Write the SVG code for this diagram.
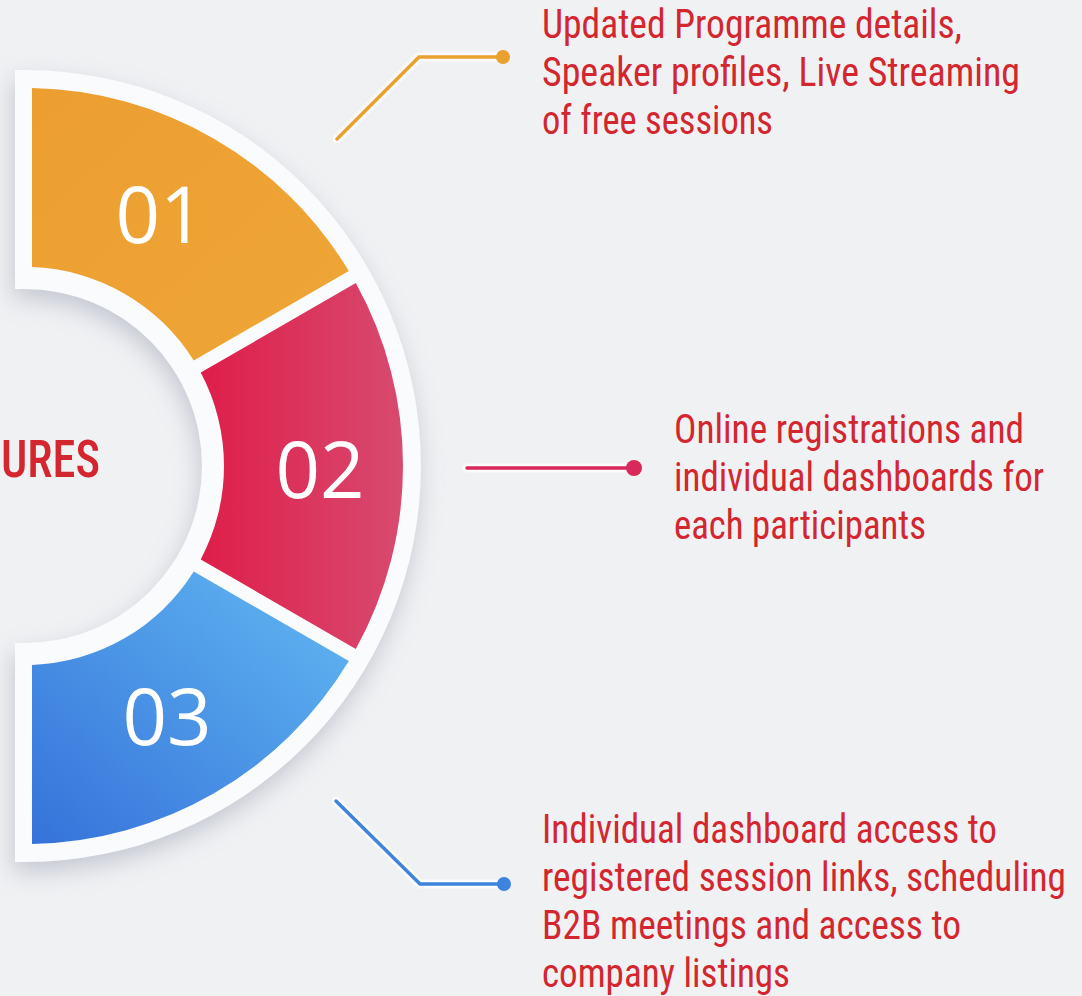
<svg xmlns="http://www.w3.org/2000/svg" width="1082" height="996" viewBox="0 0 1082 996">
<defs>
<style>
.lbl{font-family:"Liberation Sans Narrow","Roboto Condensed","Liberation Sans",Arial,sans-serif;font-size:40px;fill:#D3262F;}
.num{font-family:"Open Sans","Noto Sans",sans-serif;font-weight:400;font-size:78px;fill:#FFFFFF;text-anchor:middle;}
.conn{fill:none;stroke-width:3.5;stroke-linecap:round;stroke-linejoin:round;}
.halo{fill:none;stroke:#FFFFFF;stroke-opacity:0.7;stroke-width:9;stroke-linecap:round;stroke-linejoin:round;}
</style>
<linearGradient id="gOrange" x1="0" y1="0" x2="1" y2="1">
<stop offset="0" stop-color="#EC9F30"/>
<stop offset="1" stop-color="#EFA537"/>
</linearGradient>
<linearGradient id="gRed" x1="0" y1="0" x2="1" y2="0">
<stop offset="0" stop-color="#DE1E4A"/>
<stop offset="1" stop-color="#D84A6F"/>
</linearGradient>
<linearGradient id="gBlue" x1="0" y1="1" x2="1" y2="0">
<stop offset="0" stop-color="#3572DA"/>
<stop offset="1" stop-color="#62B9F2"/>
</linearGradient>
<filter id="shadow" x="-20%" y="-20%" width="140%" height="140%">
<feDropShadow dx="-2" dy="10" stdDeviation="12" flood-color="#8E94A6" flood-opacity="0.45"/>
</filter>
</defs>
<rect width="1082" height="996" fill="#F0F1F3"/>

<g id="ring-backing">
<path d="M 15 70 L 25 70 A 396 396 0 0 1 25 862 L 15 862 L 15 643 L 25 643 A 177 177 0 0 0 25 289 L 15 289 Z" fill="#FAFBFC" filter="url(#shadow)"/>
</g>

<g id="node-01">
<path d="M 31.99 88.06 A 378 378 0 0 1 348.79 270.98 L 193.73 360.50 A 199 199 0 0 0 32.0 267.12 Z" fill="url(#gOrange)"/>
<text class="num" x="160" y="243">01</text>
</g>

<g id="node-02">
<path d="M 355.80 283.09 A 378 378 0 0 1 355.80 648.91 L 200.73 559.38 A 199 199 0 0 0 200.73 372.62 Z" fill="url(#gRed)"/>
<text class="num" x="320" y="498">02</text>
</g>

<g id="node-03">
<path d="M 348.79 661.02 A 378 378 0 0 1 31.99 843.94 L 32.0 664.88 A 199 199 0 0 0 193.73 571.50 Z" fill="url(#gBlue)"/>
<text class="num" x="167" y="745">03</text>
</g>

<g id="title">
<text class="lbl" x="1" y="477" textLength="99" lengthAdjust="spacingAndGlyphs" style="font-size:52px;font-weight:500">URES</text>
</g>

<g id="connectors">
<path class="halo" d="M 337 139 L 419 57 L 502 57"/>
<path class="conn" stroke="#E9A02E" d="M 337 139 L 419 57 L 502 57"/>
<circle cx="503" cy="57" r="7" fill="#E9A02E"/>
<path class="halo" d="M 467 468 L 633 468"/>
<path class="conn" stroke="#D8295A" d="M 467 468 L 633 468"/>
<circle cx="634" cy="468" r="8" fill="#D8295A"/>
<path class="halo" d="M 336 801 L 420 884 L 503 884"/>
<path class="conn" stroke="#3C84DE" d="M 336 801 L 420 884 L 503 884"/>
<circle cx="504" cy="884" r="7" fill="#3C84DE"/>
</g>

<g id="label-01">
<text class="lbl" x="542" y="38" textLength="420" lengthAdjust="spacingAndGlyphs">Updated Programme details,</text>
<text class="lbl" x="542" y="86" textLength="478" lengthAdjust="spacingAndGlyphs">Speaker profiles, Live Streaming</text>
<text class="lbl" x="542" y="134" textLength="231" lengthAdjust="spacingAndGlyphs">of free sessions</text>
</g>

<g id="label-02">
<text class="lbl" x="674" y="443" textLength="350" lengthAdjust="spacingAndGlyphs">Online registrations and</text>
<text class="lbl" x="674" y="491" textLength="370" lengthAdjust="spacingAndGlyphs">individual dashboards for</text>
<text class="lbl" x="674" y="539" textLength="252" lengthAdjust="spacingAndGlyphs">each participants</text>
</g>

<g id="label-03">
<text class="lbl" x="542" y="843" textLength="455" lengthAdjust="spacingAndGlyphs">Individual dashboard access to</text>
<text class="lbl" x="542" y="891" textLength="524" lengthAdjust="spacingAndGlyphs">registered session links, scheduling</text>
<text class="lbl" x="542" y="939" textLength="419" lengthAdjust="spacingAndGlyphs">B2B meetings and access to</text>
<text class="lbl" x="542" y="987" textLength="248" lengthAdjust="spacingAndGlyphs">company listings</text>
</g>
</svg>
